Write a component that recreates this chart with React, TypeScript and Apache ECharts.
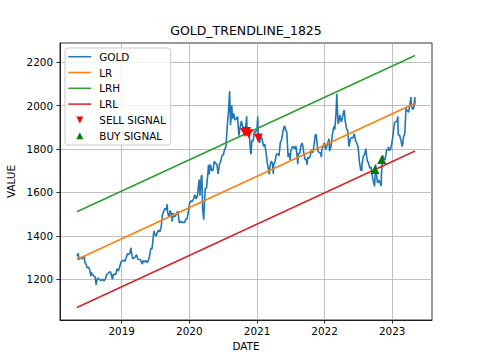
import React, { useEffect, useRef } from 'react';
import * as echarts from 'echarts';

const TITLE = 'GOLD_TRENDLINE_1825';
const X_NAME = 'DATE';
const Y_NAME = 'VALUE';
const yearTicks = ['2019-01-01', '2020-01-01', '2021-01-01', '2022-01-01', '2023-01-01'];
const valueTicks = [1200, 1400, 1600, 1800, 2000, 2200];

const gold: [string, number][] = [
  ['2018-05-04', 1314], ['2018-05-08', 1306], ['2018-05-11', 1320], ['2018-05-15', 1290], ['2018-05-18', 1291],
  ['2018-05-25', 1302], ['2018-06-01', 1294], ['2018-06-08', 1298], ['2018-06-14', 1303], ['2018-06-15', 1279],
  ['2018-06-22', 1270], ['2018-06-29', 1252], ['2018-07-06', 1256], ['2018-07-13', 1241], ['2018-07-19', 1214],
  ['2018-07-20', 1231], ['2018-07-27', 1223], ['2018-08-03', 1214], ['2018-08-10', 1212], ['2018-08-16', 1174],
  ['2018-08-17', 1184], ['2018-08-24', 1206], ['2018-08-31', 1201], ['2018-09-07', 1196], ['2018-09-14', 1194],
  ['2018-09-21', 1200], ['2018-09-28', 1192], ['2018-10-05', 1203], ['2018-10-12', 1222], ['2018-10-19', 1226],
  ['2018-10-26', 1233], ['2018-11-02', 1233], ['2018-11-09', 1209], ['2018-11-13', 1200], ['2018-11-16', 1222],
  ['2018-11-23', 1223], ['2018-11-30', 1222], ['2018-12-07', 1248], ['2018-12-14', 1238], ['2018-12-21', 1257],
  ['2018-12-28', 1280],
  ['2019-01-04', 1285], ['2019-01-11', 1288], ['2019-01-18', 1282], ['2019-01-25', 1298], ['2019-02-01', 1317],
  ['2019-02-08', 1314], ['2019-02-15', 1322], ['2019-02-20', 1345], ['2019-02-22', 1328], ['2019-03-01', 1294],
  ['2019-03-08', 1298], ['2019-03-15', 1302], ['2019-03-22', 1313], ['2019-03-29', 1292], ['2019-04-05', 1291],
  ['2019-04-12', 1290], ['2019-04-19', 1275], ['2019-04-23', 1270], ['2019-04-26', 1286], ['2019-05-03', 1280],
  ['2019-05-10', 1286], ['2019-05-17', 1277], ['2019-05-24', 1284], ['2019-05-31', 1305], ['2019-06-07', 1341],
  ['2019-06-14', 1341], ['2019-06-21', 1399], ['2019-06-25', 1423], ['2019-06-28', 1409], ['2019-07-05', 1400],
  ['2019-07-12', 1415], ['2019-07-19', 1426], ['2019-07-26', 1419], ['2019-08-02', 1440], ['2019-08-09', 1496],
  ['2019-08-16', 1513], ['2019-08-23', 1527], ['2019-08-30', 1520], ['2019-09-04', 1546], ['2019-09-06', 1507],
  ['2019-09-13', 1488], ['2019-09-20', 1517], ['2019-09-27', 1497], ['2019-10-01', 1465], ['2019-10-04', 1505],
  ['2019-10-11', 1488], ['2019-10-18', 1490], ['2019-10-25', 1505], ['2019-11-01', 1514], ['2019-11-08', 1459],
  ['2019-11-15', 1468], ['2019-11-22', 1462], ['2019-11-29', 1463], ['2019-12-06', 1460], ['2019-12-13', 1476],
  ['2019-12-20', 1478], ['2019-12-27', 1511],
  ['2020-01-03', 1552], ['2020-01-08', 1557], ['2020-01-10', 1562], ['2020-01-17', 1557], ['2020-01-24', 1571],
  ['2020-01-31', 1589], ['2020-02-07', 1570], ['2020-02-14', 1584], ['2020-02-21', 1643], ['2020-02-24', 1659],
  ['2020-02-28', 1585], ['2020-03-06', 1674], ['2020-03-09', 1680], ['2020-03-13', 1530], ['2020-03-19', 1474],
  ['2020-03-20', 1498], ['2020-03-27', 1617], ['2020-04-03', 1620], ['2020-04-10', 1683], ['2020-04-14', 1727],
  ['2020-04-17', 1683], ['2020-04-24', 1729], ['2020-05-01', 1700], ['2020-05-08', 1702], ['2020-05-15', 1743],
  ['2020-05-22', 1734], ['2020-05-29', 1730], ['2020-06-05', 1685], ['2020-06-12', 1730], ['2020-06-19', 1743],
  ['2020-06-26', 1771], ['2020-07-03', 1774], ['2020-07-10', 1798], ['2020-07-17', 1810], ['2020-07-24', 1902],
  ['2020-07-31', 1975], ['2020-08-06', 2067], ['2020-08-07', 2035], ['2020-08-11', 1911], ['2020-08-14', 1944],
  ['2020-08-18', 2002], ['2020-08-21', 1940], ['2020-08-28', 1964], ['2020-09-04', 1934], ['2020-09-11', 1940],
  ['2020-09-18', 1950], ['2020-09-25', 1862], ['2020-10-02', 1900], ['2020-10-09', 1930], ['2020-10-16', 1899],
  ['2020-10-23', 1902], ['2020-10-30', 1879], ['2020-11-06', 1951], ['2020-11-09', 1862], ['2020-11-13', 1889],
  ['2020-11-20', 1871], ['2020-11-27', 1788], ['2020-11-30', 1776], ['2020-12-04', 1839], ['2020-12-11', 1839],
  ['2020-12-18', 1881], ['2020-12-25', 1878],
  ['2021-01-01', 1895], ['2021-01-05', 1950], ['2021-01-08', 1850], ['2021-01-15', 1829], ['2021-01-22', 1856],
  ['2021-01-29', 1847], ['2021-02-05', 1813], ['2021-02-12', 1823], ['2021-02-19', 1784], ['2021-02-26', 1734],
  ['2021-03-05', 1700], ['2021-03-08', 1683], ['2021-03-12', 1719], ['2021-03-19', 1745], ['2021-03-26', 1733],
  ['2021-03-30', 1685], ['2021-04-02', 1729], ['2021-04-09', 1744], ['2021-04-16', 1777], ['2021-04-23', 1777],
  ['2021-04-30', 1769], ['2021-05-07', 1831], ['2021-05-14', 1844], ['2021-05-21', 1881], ['2021-05-28', 1905],
  ['2021-06-01', 1903], ['2021-06-04', 1891], ['2021-06-11', 1877], ['2021-06-18', 1764], ['2021-06-25', 1781],
  ['2021-06-29', 1750], ['2021-07-02', 1787], ['2021-07-09', 1808], ['2021-07-16', 1812], ['2021-07-23', 1802],
  ['2021-07-30', 1814], ['2021-08-06', 1763], ['2021-08-09', 1730], ['2021-08-13', 1780], ['2021-08-20', 1781],
  ['2021-08-27', 1818], ['2021-09-03', 1828], ['2021-09-10', 1787], ['2021-09-17', 1754], ['2021-09-24', 1750],
  ['2021-09-29', 1727], ['2021-10-01', 1761], ['2021-10-08', 1757], ['2021-10-15', 1768], ['2021-10-22', 1796],
  ['2021-10-29', 1783], ['2021-11-05', 1818], ['2021-11-12', 1865], ['2021-11-16', 1867], ['2021-11-19', 1846],
  ['2021-11-26', 1792], ['2021-12-03', 1783], ['2021-12-10', 1783], ['2021-12-15', 1763], ['2021-12-17', 1798],
  ['2021-12-24', 1811], ['2021-12-31', 1829],
  ['2022-01-07', 1797], ['2022-01-14', 1817], ['2022-01-21', 1835], ['2022-01-25', 1848], ['2022-01-28', 1791],
  ['2022-02-04', 1808], ['2022-02-11', 1860], ['2022-02-18', 1898], ['2022-02-24', 1904], ['2022-02-25', 1889],
  ['2022-03-04', 1966], ['2022-03-08', 2055], ['2022-03-11', 1988], ['2022-03-15', 1918], ['2022-03-18', 1921],
  ['2022-03-25', 1958], ['2022-04-01', 1925], ['2022-04-08', 1945], ['2022-04-14', 1975], ['2022-04-18', 1978],
  ['2022-04-22', 1932], ['2022-04-29', 1897], ['2022-05-06', 1883], ['2022-05-13', 1811], ['2022-05-16', 1813],
  ['2022-05-20', 1846], ['2022-05-27', 1853], ['2022-06-03', 1851], ['2022-06-10', 1871], ['2022-06-17', 1840],
  ['2022-06-24', 1827], ['2022-07-01', 1811], ['2022-07-08', 1742], ['2022-07-15', 1703], ['2022-07-21', 1700],
  ['2022-07-22', 1727], ['2022-07-29', 1766], ['2022-08-05', 1775], ['2022-08-12', 1802], ['2022-08-19', 1747],
  ['2022-08-26', 1737], ['2022-09-02', 1712], ['2022-09-09', 1717], ['2022-09-16', 1675], ['2022-09-23', 1644],
  ['2022-09-28', 1628], ['2022-09-30', 1661], ['2022-10-04', 1730], ['2022-10-07', 1695], ['2022-10-14', 1644],
  ['2022-10-21', 1657], ['2022-10-28', 1644], ['2022-11-03', 1630], ['2022-11-04', 1681], ['2022-11-11', 1771],
  ['2022-11-18', 1751], ['2022-11-25', 1754], ['2022-12-02', 1797], ['2022-12-09', 1797], ['2022-12-13', 1810],
  ['2022-12-16', 1793], ['2022-12-23', 1798], ['2022-12-30', 1824],
  ['2023-01-06', 1865], ['2023-01-13', 1920], ['2023-01-20', 1926], ['2023-01-27', 1928], ['2023-02-01', 1950],
  ['2023-02-03', 1865], ['2023-02-10', 1865], ['2023-02-17', 1842], ['2023-02-24', 1811], ['2023-02-28', 1827],
  ['2023-03-03', 1856], ['2023-03-10', 1868], ['2023-03-17', 1989], ['2023-03-20', 1978], ['2023-03-24', 1978],
  ['2023-03-31', 1969], ['2023-04-07', 2007], ['2023-04-13', 2040], ['2023-04-14', 2004], ['2023-04-21', 1983],
  ['2023-04-28', 1990], ['2023-05-03', 2040], ['2023-05-05', 2005],
];

const trendDates = ['2018-05-04', '2023-05-05'];
const lrValues = [1291, 2011];
const lrhValues = [1511, 2231];
const lrlValues = [1070, 1791];

const sellSignals: [string, number][] = [
  ['2020-10-27', 1876], ['2020-11-06', 1881], ['2020-11-17', 1871], ['2021-01-08', 1851],
];
const buySignals: [string, number][] = [
  ['2022-09-30', 1706], ['2022-11-06', 1752],
];

const FONT = 'DejaVu Sans';
const LINE_ICON = 'path://M0,0L46,0L46,3L0,3Z';
const DOWN_TRI = 'path://M0,0L10,0L5,10Z';
const UP_TRI = 'path://M5,0L10,10L0,10Z';

function ts(s: string): number {
  const [y, m, d] = s.split('-').map(Number);
  return new Date(y, m - 1, d).getTime();
}

export default function App() {
  const ref = useRef<HTMLDivElement>(null);
  useEffect(() => {
    if (!ref.current) return;
    const chart = echarts.init(ref.current, undefined, { renderer: 'svg' });

    const goldData = gold.map(([d, v]) => [ts(d), v]);
    const trend = (vals: number[]) => trendDates.map((d, i) => [ts(d), vals[i]]);
    const allX = goldData.map((p) => p[0]).concat(trendDates.map(ts));
    const allY = gold.map((p) => p[1]).concat(lrValues, lrhValues, lrlValues);
    const x0 = Math.min(...allX), x1 = Math.max(...allX);
    const y0 = Math.min(...allY), y1 = Math.max(...allY);
    const xPad = (x1 - x0) * 0.05, yPad = (y1 - y0) * 0.05;
    const yearTs = yearTicks.map(ts);

    const lineSeries = (name: string, data: number[][], color: string) => ({
      name,
      type: 'line',
      data,
      showSymbol: false,
      symbol: 'none',
      silent: true,
      lineStyle: { color, width: 1.6 },
      itemStyle: { color },
      emphasis: { disabled: true },
    });

    chart.setOption({
      animation: false,
      backgroundColor: '#ffffff',
      title: {
        text: TITLE,
        left: 246,
        top: 24,
        textAlign: 'center',
        padding: 0,
        textStyle: { fontFamily: FONT, fontSize: 12.5, fontWeight: 'normal', color: '#000' },
      },
      grid: {
        left: 60, right: 48, top: 43, bottom: 40,
        show: true, borderColor: '#000', borderWidth: 0.8, backgroundColor: 'transparent',
        outerBoundsMode: 'none',
      },
      legend: {
        orient: 'vertical',
        left: 65,
        top: 48,
        selectedMode: false,
        itemWidth: 23,
        itemHeight: 7,
        itemGap: 3.8,
        symbolKeepAspect: true,
        padding: [2.7, 5, 3.3, 3.3],
        backgroundColor: 'rgba(255,255,255,0.8)',
        borderColor: '#cccccc',
        borderWidth: 1,
        borderRadius: 3,
        textStyle: { fontFamily: FONT, fontSize: 10.4, color: '#000', lineHeight: 12, padding: [0, 0, 0, 3] },
        data: [
          { name: 'GOLD', icon: LINE_ICON },
          { name: 'LR', icon: LINE_ICON },
          { name: 'LRH', icon: LINE_ICON },
          { name: 'LRL', icon: LINE_ICON },
          { name: 'SELL SIGNAL', icon: DOWN_TRI },
          { name: 'BUY SIGNAL', icon: UP_TRI },
        ],
      },
      xAxis: {
        type: 'value',
        min: x0 - xPad,
        max: x1 + xPad,
        name: X_NAME,
        nameLocation: 'middle',
        nameGap: 20,
        nameTextStyle: { fontFamily: FONT, fontSize: 10.4, color: '#000' },
        axisLine: { show: true, lineStyle: { color: '#000', width: 0.8 } },
        axisTick: { show: true, length: 3.6, lineStyle: { color: '#000', width: 0.8 }, customValues: yearTs },
        axisLabel: {
          customValues: yearTs,
          formatter: (v: number) => String(new Date(v).getFullYear()),
          color: '#000', fontFamily: FONT, fontSize: 10.4, margin: 6, hideOverlap: false,
        },
        splitLine: { show: true, lineStyle: { color: '#b0b0b0', width: 0.8 } },
      },
      yAxis: {
        type: 'value',
        min: y0 - yPad,
        max: y1 + yPad,
        name: Y_NAME,
        nameLocation: 'middle',
        nameGap: 37,
        nameRotate: 90,
        nameTextStyle: { fontFamily: FONT, fontSize: 10.4, color: '#000' },
        axisLine: { show: true, lineStyle: { color: '#000', width: 0.8 } },
        axisTick: { show: true, length: 3.6, lineStyle: { color: '#000', width: 0.8 }, customValues: valueTicks },
        axisLabel: {
          customValues: valueTicks,
          formatter: (v: number) => (v % 200 === 0 ? String(v) : ''),
          color: '#000', fontFamily: FONT, fontSize: 10.4, margin: 7,
        },
        splitLine: { show: true, lineStyle: { color: '#b0b0b0', width: 0.8 } },
      },
      series: [
        lineSeries('GOLD', goldData, '#1f77b4'),
        lineSeries('LR', trend(lrValues), '#ff7f0e'),
        lineSeries('LRH', trend(lrhValues), '#2ca02c'),
        lineSeries('LRL', trend(lrlValues), '#d62728'),
        {
          name: 'SELL SIGNAL',
          type: 'scatter',
          silent: true,
          z: 5,
          symbol: DOWN_TRI,
          symbolSize: 9,
          itemStyle: { color: '#ff0000', opacity: 1 },
          data: sellSignals.map(([d, v]) => [ts(d), v]),
        },
        {
          name: 'BUY SIGNAL',
          type: 'scatter',
          silent: true,
          z: 5,
          symbol: UP_TRI,
          symbolSize: 9,
          itemStyle: { color: '#008000', opacity: 1 },
          data: buySignals.map(([d, v]) => [ts(d), v]),
        },
      ],
    });
    return () => chart.dispose();
  }, []);
  return <div ref={ref} style={{ position: 'fixed', left: 0, top: 0, width: 480, height: 360 }} />;
}
